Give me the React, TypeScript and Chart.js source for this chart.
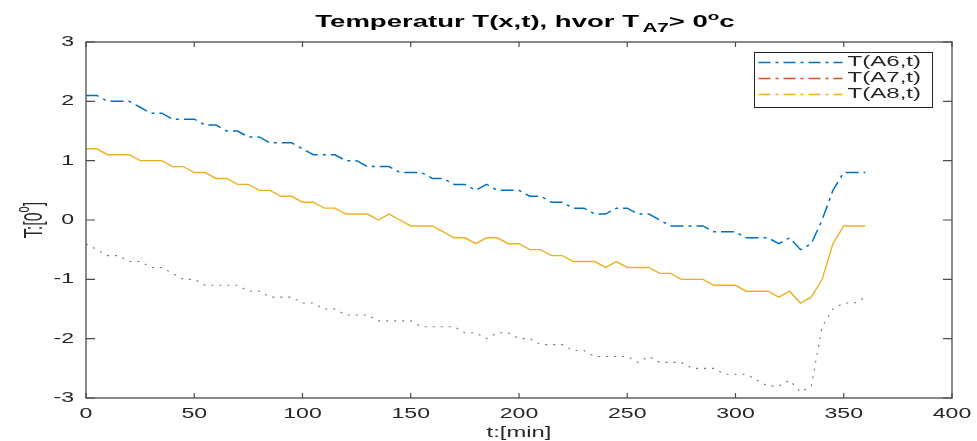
import React, { useEffect, useRef } from "react";
import { Chart, registerables } from "chart.js";

Chart.register(...registerables);

const TIMES = [
  0, 5, 10, 15, 20, 25, 30, 35, 40, 45, 50, 55, 60, 65, 70, 75, 80, 85, 90, 95,
  100, 105, 110, 115, 120, 125, 130, 135, 140, 145, 150, 155, 160, 165, 170, 175,
  180, 185, 190, 195, 200, 205, 210, 215, 220, 225, 230, 235, 240, 245, 250, 255,
  260, 265, 270, 275, 280, 285, 290, 295, 300, 305, 310, 315, 320, 325, 330, 335,
  340, 345, 350, 355, 360,
];

const T_A6 = [
  2.1, 2.1, 2.0, 2.0, 2.0, 1.9, 1.8, 1.8, 1.7, 1.7, 1.7, 1.6, 1.6, 1.5, 1.5, 1.4,
  1.4, 1.3, 1.3, 1.3, 1.2, 1.1, 1.1, 1.1, 1.0, 1.0, 0.9, 0.9, 0.9, 0.8, 0.8, 0.8,
  0.7, 0.7, 0.6, 0.6, 0.5, 0.6, 0.5, 0.5, 0.5, 0.4, 0.4, 0.3, 0.3, 0.2, 0.2, 0.1,
  0.1, 0.2, 0.2, 0.1, 0.1, 0.0, -0.1, -0.1, -0.1, -0.1, -0.2, -0.2, -0.2, -0.3,
  -0.3, -0.3, -0.4, -0.3, -0.5, -0.4, 0.0, 0.5, 0.8, 0.8, 0.8,
];

const T_A7 = [
  1.2, 1.2, 1.1, 1.1, 1.1, 1.0, 1.0, 1.0, 0.9, 0.9, 0.8, 0.8, 0.7, 0.7, 0.6, 0.6,
  0.5, 0.5, 0.4, 0.4, 0.3, 0.3, 0.2, 0.2, 0.1, 0.1, 0.1, 0.0, 0.1, 0.0, -0.1, -0.1,
  -0.1, -0.2, -0.3, -0.3, -0.4, -0.3, -0.3, -0.4, -0.4, -0.5, -0.5, -0.6, -0.6,
  -0.7, -0.7, -0.7, -0.8, -0.7, -0.8, -0.8, -0.8, -0.9, -0.9, -1.0, -1.0, -1.0,
  -1.1, -1.1, -1.1, -1.2, -1.2, -1.2, -1.3, -1.2, -1.4, -1.3, -1.0, -0.4, -0.1,
  -0.1, -0.1,
];

const T_A8 = [
  -0.4, -0.5, -0.6, -0.6, -0.7, -0.7, -0.8, -0.8, -0.9, -1.0, -1.0, -1.1, -1.1,
  -1.1, -1.1, -1.2, -1.2, -1.3, -1.3, -1.3, -1.4, -1.4, -1.5, -1.5, -1.6, -1.6,
  -1.6, -1.7, -1.7, -1.7, -1.7, -1.8, -1.8, -1.8, -1.8, -1.9, -1.9, -2.0, -1.9,
  -1.9, -2.0, -2.0, -2.1, -2.1, -2.1, -2.2, -2.2, -2.3, -2.3, -2.3, -2.3, -2.4,
  -2.3, -2.4, -2.4, -2.4, -2.5, -2.5, -2.5, -2.6, -2.6, -2.6, -2.7, -2.8, -2.8,
  -2.7, -2.9, -2.8, -1.8, -1.5, -1.4, -1.4, -1.3,
];

const X_TICKS = [0, 50, 100, 150, 200, 250, 300, 350, 400];
const Y_TICKS = [-3, -2, -1, 0, 1, 2, 3];
const LEGEND_LABELS = ["T(A6,t)", "T(A7,t)", "T(A8,t)"];
const LEGEND_COLORS = ["#0072BD", "#D95319", "#EDB120"];

const FONT = "'Liberation Sans', Arial, Helvetica, sans-serif";
const TEXT = "#262626";
const AXIS = "#4a4a4a";

function sText(
  ctx: CanvasRenderingContext2D,
  text: string,
  x: number,
  y: number,
  font: string,
  sx: number,
  align: CanvasTextAlign,
  baseline: CanvasTextBaseline
) {
  ctx.save();
  ctx.font = font;
  ctx.textAlign = align;
  ctx.textBaseline = baseline;
  ctx.fillStyle = TEXT;
  ctx.translate(x, y);
  ctx.scale(sx, 1);
  ctx.fillText(text, 0, 0);
  ctx.restore();
}

type Piece = { t: string; f: string; dy: number; gap?: number };

function pieceWidth(ctx: CanvasRenderingContext2D, pieces: Piece[]) {
  let w = 0;
  for (const p of pieces) {
    ctx.font = p.f;
    w += ctx.measureText(p.t).width + (p.gap || 0);
  }
  return w;
}

const decor = {
  id: "matlabDecor",
  beforeDraw(chart: any) {
    const ctx = chart.ctx as CanvasRenderingContext2D;
    ctx.save();
    ctx.fillStyle = "#ffffff";
    ctx.fillRect(0, 0, chart.width, chart.height);
    ctx.restore();
  },
  afterDraw(chart: any) {
    const ctx = chart.ctx as CanvasRenderingContext2D;
    const { left, right, top, bottom } = chart.chartArea;
    const xs = chart.scales.x;
    const ys = chart.scales.y;

    // frame
    ctx.save();
    ctx.strokeStyle = AXIS;
    ctx.lineWidth = 1.3;
    ctx.strokeRect(left, top, right - left, bottom - top);

    // inward ticks on all sides
    ctx.lineWidth = 1.2;
    ctx.beginPath();
    for (const v of X_TICKS) {
      const px = xs.getPixelForValue(v);
      ctx.moveTo(px, bottom);
      ctx.lineTo(px, bottom - 5);
      ctx.moveTo(px, top);
      ctx.lineTo(px, top + 5);
    }
    for (const v of Y_TICKS) {
      const py = ys.getPixelForValue(v);
      ctx.moveTo(left, py);
      ctx.lineTo(left + 9, py);
      ctx.moveTo(right, py);
      ctx.lineTo(right - 9, py);
    }
    ctx.stroke();
    ctx.restore();

    // tick labels
    const tickFont = `14px ${FONT}`;
    for (const v of X_TICKS) {
      sText(ctx, String(v), xs.getPixelForValue(v), bottom + 16, tickFont, 1.65, "center", "middle");
    }
    for (const v of Y_TICKS) {
      sText(ctx, String(v), left - 12, ys.getPixelForValue(v), tickFont, 1.65, "right", "middle");
    }

    // x label
    sText(ctx, "t:[min]", (left + right) / 2, bottom + 35, `14px ${FONT}`, 1.7, "center", "middle");

    // y label (rotated) with superscript
    {
      const pieces: Piece[] = [
        { t: "T:[0", f: `16px ${FONT}`, dy: 0 },
        { t: "o", f: `11px ${FONT}`, dy: -7 },
        { t: "]", f: `16px ${FONT}`, dy: 0 },
      ];
      ctx.save();
      const total = pieceWidth(ctx, pieces);
      ctx.translate(35, (top + bottom) / 2);
      ctx.scale(1.6, 1);
      ctx.rotate(-Math.PI / 2);
      ctx.fillStyle = TEXT;
      ctx.textBaseline = "middle";
      ctx.textAlign = "left";
      let cx = -total / 2;
      for (const p of pieces) {
        ctx.font = p.f;
        ctx.fillText(p.t, cx, p.dy);
        cx += ctx.measureText(p.t).width;
      }
      ctx.restore();
    }

    // title with subscript and superscript
    {
      const sx = 1.72;
      const pieces: Piece[] = [
        { t: "Temperatur T(x,t), hvor T", f: `bold 16px ${FONT}`, dy: 0, gap: 2 },
        { t: "A7", f: `bold 12px ${FONT}`, dy: 5 },
        { t: "> 0", f: `bold 16px ${FONT}`, dy: 0 },
        { t: "o", f: `bold 11px ${FONT}`, dy: -7 },
        { t: "c", f: `bold 16px ${FONT}`, dy: 0 },
      ];
      ctx.save();
      const total = pieceWidth(ctx, pieces) * sx;
      ctx.translate((left + right) / 2 + 6 - total / 2, 27);
      ctx.scale(sx, 1);
      ctx.fillStyle = "#000000";
      ctx.textBaseline = "alphabetic";
      ctx.textAlign = "left";
      let cx = 0;
      for (const p of pieces) {
        ctx.font = p.f;
        ctx.fillText(p.t, cx, p.dy);
        cx += ctx.measureText(p.t).width + (p.gap || 0);
      }
      ctx.restore();
    }

    // legend box
    {
      const bx = 754.5;
      const by = 52.5;
      const bw = 178;
      const bh = 55;
      ctx.save();
      ctx.fillStyle = "#ffffff";
      ctx.fillRect(bx, by, bw, bh);
      ctx.strokeStyle = "#262626";
      ctx.lineWidth = 1;
      ctx.strokeRect(bx, by, bw, bh);
      LEGEND_LABELS.forEach((lab, i) => {
        const yy = by + 10 + i * 16;
        ctx.save();
        ctx.strokeStyle = LEGEND_COLORS[i];
        ctx.lineWidth = 1.3;
        ctx.setLineDash([12, 5, 3, 5]);
        ctx.beginPath();
        ctx.moveTo(bx + 4, yy);
        ctx.lineTo(bx + 88, yy);
        ctx.stroke();
        ctx.restore();
        sText(ctx, lab, bx + 93, yy, `14px ${FONT}`, 1.72, "left", "middle");
      });
      ctx.restore();
    }
  },
};

function toPoints(vals: number[]) {
  return TIMES.map((t, i) => ({ x: t, y: vals[i] }));
}

export default function App() {
  const ref = useRef<HTMLCanvasElement | null>(null);

  useEffect(() => {
    document.body.style.margin = "0";
    const canvas = ref.current;
    if (!canvas) return;
    const chart = new Chart(canvas, {
      type: "line",
      data: {
        datasets: [
          {
            label: LEGEND_LABELS[0],
            data: toPoints(T_A6),
            borderColor: "#0072BD",
            borderWidth: 1.5,
            borderDash: [13, 5, 3, 5],
            pointRadius: 0,
            fill: false,
            tension: 0,
          },
          {
            label: LEGEND_LABELS[1],
            data: toPoints(T_A7),
            borderColor: "#EDB120",
            borderWidth: 1.4,
            pointRadius: 0,
            fill: false,
            tension: 0,
          },
          {
            label: LEGEND_LABELS[2],
            data: toPoints(T_A8),
            borderColor: "#77776a",
            borderWidth: 1.1,
            borderDash: [2, 6],
            pointRadius: 0,
            fill: false,
            tension: 0,
          },
        ],
      },
      options: {
        responsive: false,
        animation: false,
        devicePixelRatio: 1,
        layout: { padding: { left: 86, right: 25, top: 42, bottom: 43 } },
        scales: {
          x: { type: "linear", min: 0, max: 400, display: false },
          y: { type: "linear", min: -3, max: 3, display: false },
        },
        plugins: {
          legend: { display: false },
          title: { display: false },
          tooltip: { enabled: false },
        },
      },
      plugins: [decor],
    });
    return () => chart.destroy();
  }, []);

  return (
    <div style={{ position: "absolute", left: 0, top: 0, width: 977, height: 441 }}>
      <canvas ref={ref} width={977} height={441} style={{ display: "block" }} />
    </div>
  );
}
